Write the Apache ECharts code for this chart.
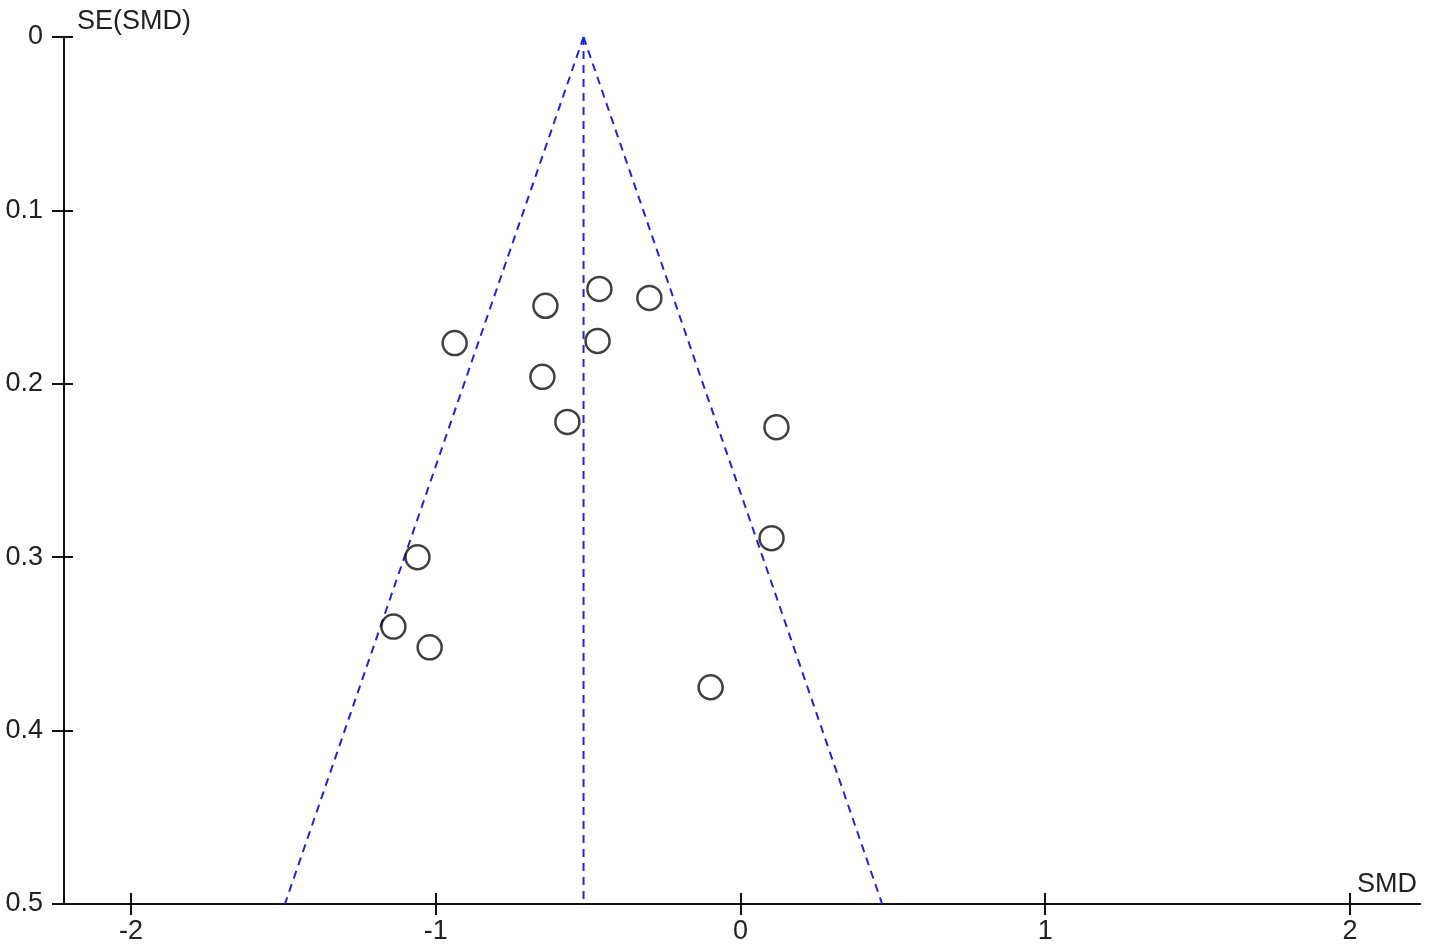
<!DOCTYPE html>
<html><head><meta charset="utf-8">
<script src="https://cdn.jsdelivr.net/npm/echarts@6/dist/echarts.min.js"></script>
<style>html,body{margin:0;padding:0;background:#fff}#c{width:1429px;height:950px}</style>
</head><body><div id="c"></div>
<script>
const smd = [-0.463,-0.299,-0.640,-0.469,-0.938,-0.650,-0.568,0.118,0.102,-1.060,-1.139,-1.020,-0.098];
const se  = [0.1453,0.1505,0.155,0.1753,0.1765,0.196,0.222,0.225,0.289,0.300,0.340,0.352,0.375];
const pooled = -0.515;
const seMax = 0.5;
const xTicks = [-2,-1,0,1,2];
const yTicks = [0,0.1,0.2,0.3,0.4,0.5];

const pts = smd.map((v,i)=>[v,se[i]]);
const leftLine = [[pooled,0],[pooled-1.96*seMax,seMax]];
const rightLine = [[pooled,0],[pooled+1.96*seMax,seMax]];
const midLine = [[pooled,0],[pooled,seMax]];

const font = '"Liberation Sans", Arial, sans-serif';
const txt = '#222';
const chart = echarts.init(document.getElementById('c'));
const xBase = {type:'value',min:-2.22,max:2.23,splitLine:{show:false},
  axisLine:{onZero:false,lineStyle:{color:'#111',width:2}}};
const yBase = {type:'value',min:0,max:0.5,interval:0.1,inverse:true,splitLine:{show:false},
  axisLine:{onZero:false,lineStyle:{color:'#111',width:2}}};
chart.setOption({
  animation:false,
  grid:{left:64,top:37,right:9,bottom:46},
  xAxis:[
    Object.assign({},xBase,{position:'bottom',name:'SMD',nameLocation:'end',nameGap:0,
      nameTextStyle:{fontFamily:font,fontSize:27,color:txt,align:'right',verticalAlign:'bottom',padding:[0,3,6,0]},
      axisTick:{show:true,length:11,customValues:xTicks,lineStyle:{color:'#111',width:2}},
      axisLabel:{fontFamily:font,fontSize:27,color:txt,margin:14,customValues:xTicks,
        formatter:v=>String(Math.round(v))}}),
    Object.assign({},xBase,{position:'bottom',axisLabel:{show:false},
      axisTick:{show:true,inside:true,length:11,customValues:xTicks,lineStyle:{color:'#111',width:2}}})
  ],
  yAxis:[
    Object.assign({},yBase,{position:'left',name:'SE(SMD)',nameLocation:'start',nameGap:0,
      nameTextStyle:{fontFamily:font,fontSize:27,color:txt,align:'left',verticalAlign:'bottom',padding:[0,0,2,13]},
      axisTick:{show:true,length:12,lineStyle:{color:'#111',width:2}},
      axisLabel:{fontFamily:font,fontSize:27,color:txt,margin:21,
        formatter:v=>String(Math.round(v*10)/10)}}),
    Object.assign({},yBase,{position:'left',axisLabel:{show:false},
      axisTick:{show:true,inside:true,length:9,lineStyle:{color:'#111',width:2}}})
  ],
  series:[
    {type:'line',data:leftLine,symbol:'none',lineStyle:{color:'#2222dd',width:2,type:[8,6]},z:1},
    {type:'line',data:rightLine,symbol:'none',lineStyle:{color:'#2222dd',width:2,type:[8,6]},z:1},
    {type:'line',data:midLine,symbol:'none',lineStyle:{color:'#2222dd',width:2,type:[8,6]},z:1},
    {type:'scatter',data:pts,symbol:'circle',symbolSize:24,
      itemStyle:{color:'rgba(255,255,255,0)',borderColor:'#111',borderWidth:2.5},z:3}
  ]
});
</script></body></html>
